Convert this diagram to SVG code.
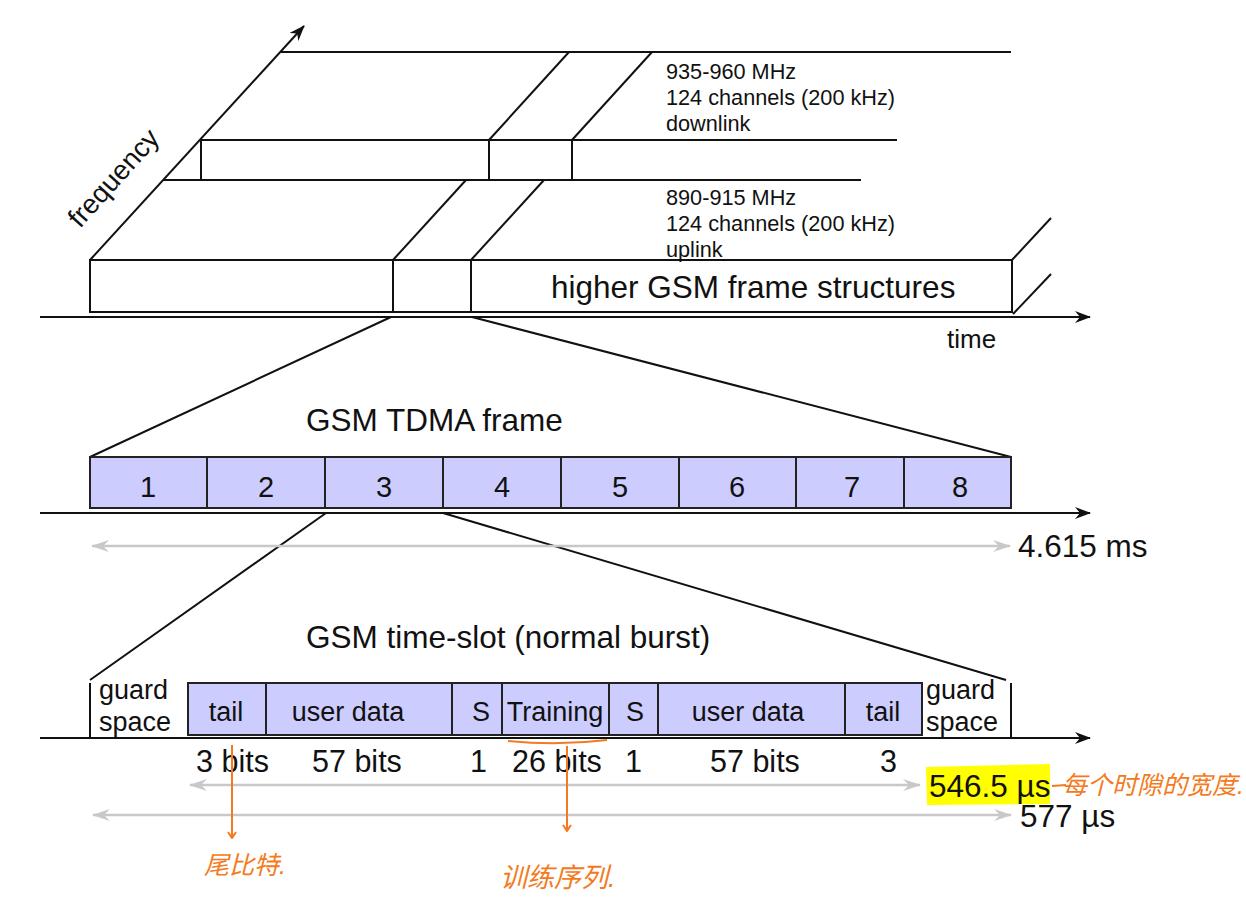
<svg xmlns="http://www.w3.org/2000/svg" width="1246" height="917" viewBox="0 0 1246 917">
<style>
text{font-family:"Liberation Sans",Arial,sans-serif;fill:#111}
.ln{stroke:#111;stroke-width:2;fill:none}
.ax{stroke:#111;stroke-width:2;fill:none;marker-end:url(#ab)}
.gr{stroke:#c8c8c8;stroke-width:2.5;fill:none;marker-start:url(#ag);marker-end:url(#ag)}
.slot{fill:#ccccff;stroke:#222;stroke-width:2}
.t21{font-size:21.7px}
.t27{font-size:27px}
.t30{font-size:30.5px}
.t31{font-size:31.5px}
.c{text-anchor:middle}
.or{stroke:#f47a20;stroke-width:2;fill:none}
.cjk{font-family:"Liberation Sans","Noto Sans CJK SC",sans-serif;fill:#f47a20;font-style:italic}
</style>
<defs>
<marker id="ab" markerUnits="userSpaceOnUse" viewBox="0 0 16 12" refX="15" refY="6" markerWidth="16" markerHeight="12" orient="auto">
<path d="M0,0 L16,6 L0,12 L5,6 Z" fill="#111"/>
</marker>
<marker id="ag" markerUnits="userSpaceOnUse" viewBox="0 0 18 12" refX="17" refY="6" markerWidth="18" markerHeight="12" orient="auto-start-reverse">
<path d="M0,0 L18,6 L0,12 L6,6 Z" fill="#c8c8c8"/>
</marker>
<marker id="ao" markerUnits="userSpaceOnUse" viewBox="0 0 10 10" refX="5" refY="9" markerWidth="10" markerHeight="10" orient="0">
<path d="M1,3 L5,9 L9,3" fill="none" stroke="#f47a20" stroke-width="2"/>
</marker>
</defs>

<g id="frequency-structure">
<line class="ax" x1="90" y1="260" x2="304" y2="26"/>
<text transform="translate(80,229) rotate(-48)" style="font-size:27.5px">frequency</text>
<!-- downlink band -->
<line class="ln" x1="281" y1="52" x2="1011" y2="52"/>
<line class="ln" x1="201" y1="140" x2="897" y2="140"/>
<line class="ln" x1="201" y1="140" x2="201" y2="180"/>
<line class="ln" x1="489" y1="140" x2="489" y2="180"/>
<line class="ln" x1="572" y1="140" x2="572" y2="180"/>
<line class="ln" x1="489" y1="140" x2="569" y2="52"/>
<line class="ln" x1="572" y1="140" x2="652" y2="52"/>
<!-- uplink band -->
<line class="ln" x1="163" y1="180" x2="861" y2="180"/>
<line class="ln" x1="393" y1="260" x2="466" y2="180"/>
<line class="ln" x1="471" y1="260" x2="544" y2="180"/>
<rect class="ln" x="90" y="260" width="922" height="52"/>
<line class="ln" x1="393" y1="260" x2="393" y2="312"/>
<line class="ln" x1="471" y1="260" x2="471" y2="312"/>
<line class="ln" x1="1012" y1="260" x2="1051" y2="218"/>
<line class="ln" x1="1013" y1="314" x2="1051" y2="274"/>
<line class="ax" x1="40" y1="317" x2="1090" y2="317"/>
<text class="t21" x="666" y="79">935-960 MHz</text>
<text class="t21" x="666" y="105">124 channels (200 kHz)</text>
<text class="t21" x="666" y="131">downlink</text>
<text class="t21" x="666" y="205">890-915 MHz</text>
<text class="t21" x="666" y="231">124 channels (200 kHz)</text>
<text class="t21" x="666" y="257">uplink</text>
<text x="551" y="298" style="font-size:31.5px">higher GSM frame structures</text>
<text x="947" y="348" style="font-size:26px">time</text>
</g>

<g id="connectors">
<line class="ln" x1="391" y1="317" x2="90" y2="457"/>
<line class="ln" x1="472" y1="317" x2="1011" y2="457"/>
<line class="ln" x1="326" y1="513" x2="90" y2="680"/>
<line class="ln" x1="443" y1="513" x2="1006" y2="680"/>
</g>

<g id="tdma-frame">
<text class="t31" x="306" y="431">GSM TDMA frame</text>
<rect class="slot" x="90" y="457" width="117" height="51"/>
<rect class="slot" x="207" y="457" width="118" height="51"/>
<rect class="slot" x="325" y="457" width="118" height="51"/>
<rect class="slot" x="443" y="457" width="118" height="51"/>
<rect class="slot" x="561" y="457" width="118" height="51"/>
<rect class="slot" x="679" y="457" width="117" height="51"/>
<rect class="slot" x="796" y="457" width="108" height="51"/>
<rect class="slot" x="904" y="457" width="107" height="51"/>
<g style="font-size:29px" class="c">
<text x="148" y="497">1</text>
<text x="266" y="497">2</text>
<text x="384" y="497">3</text>
<text x="502" y="497">4</text>
<text x="620" y="497">5</text>
<text x="737" y="497">6</text>
<text x="852" y="497">7</text>
<text x="960" y="497">8</text>
</g>
<line class="ax" x1="40" y1="513" x2="1090" y2="513"/>
<line class="gr" x1="92" y1="546" x2="1010" y2="546"/>
<text class="t31" x="1018" y="557">4.615 ms</text>
</g>

<g id="time-slot">
<text class="t31" x="306" y="648">GSM time-slot (normal burst)</text>
<line class="ln" x1="90" y1="683" x2="90" y2="738"/>
<line class="ln" x1="1011" y1="683" x2="1011" y2="738"/>
<text class="t27" x="99" y="699">guard</text>
<text class="t27" x="99" y="731">space</text>
<text class="t27" x="926" y="699">guard</text>
<text class="t27" x="926" y="731">space</text>
<rect class="slot" x="188" y="683" width="78" height="52"/>
<rect class="slot" x="266" y="683" width="186" height="52"/>
<rect class="slot" x="452" y="683" width="50" height="52"/>
<rect class="slot" x="502" y="683" width="107" height="52"/>
<rect class="slot" x="609" y="683" width="49" height="52"/>
<rect class="slot" x="658" y="683" width="187" height="52"/>
<rect class="slot" x="845" y="683" width="77" height="52"/>
<g class="t27 c">
<text x="226" y="721">tail</text>
<text x="348" y="721">user data</text>
<text x="481" y="721">S</text>
<text x="555" y="721">Training</text>
<text x="635" y="721">S</text>
<text x="748" y="721">user data</text>
<text x="883" y="721">tail</text>
</g>
<line class="ax" x1="40" y1="738" x2="1090" y2="738"/>
<g class="t30">
<text x="196" y="772">3 bits</text>
<text x="312" y="772">57 bits</text>
<text x="470" y="772">1</text>
<text x="512" y="772">26 bits</text>
<text x="625" y="772">1</text>
<text x="710" y="772">57 bits</text>
<text x="880" y="772">3</text>
</g>
<line class="gr" x1="190" y1="785" x2="920" y2="785"/>
<line class="gr" x1="93" y1="815" x2="1011" y2="815"/>
<path d="M926,767 L1050,764 L1050,804 L927,805 Z" fill="#ffff00"/>
<text class="t31" x="929" y="797">546.5 µs</text>
<text class="t31" x="1020" y="827">577 µs</text>
</g>

<g id="annotations">
<line class="or" x1="232" y1="745" x2="232" y2="838" marker-end="url(#ao)"/>
<path class="or" d="M508,741 Q558,746 607,740"/>
<line class="or" x1="567" y1="746" x2="567" y2="831" marker-end="url(#ao)"/>
<line class="or" x1="1052" y1="786" x2="1066" y2="785"/>
<text class="cjk" x="204" y="874" style="font-size:25px">尾比特.</text>
<text class="cjk" x="500" y="887" style="font-size:27px">训练序列.</text>
<text class="cjk" x="1062" y="794" style="font-size:25px">每个时隙的宽度.</text>
</g>
</svg>
